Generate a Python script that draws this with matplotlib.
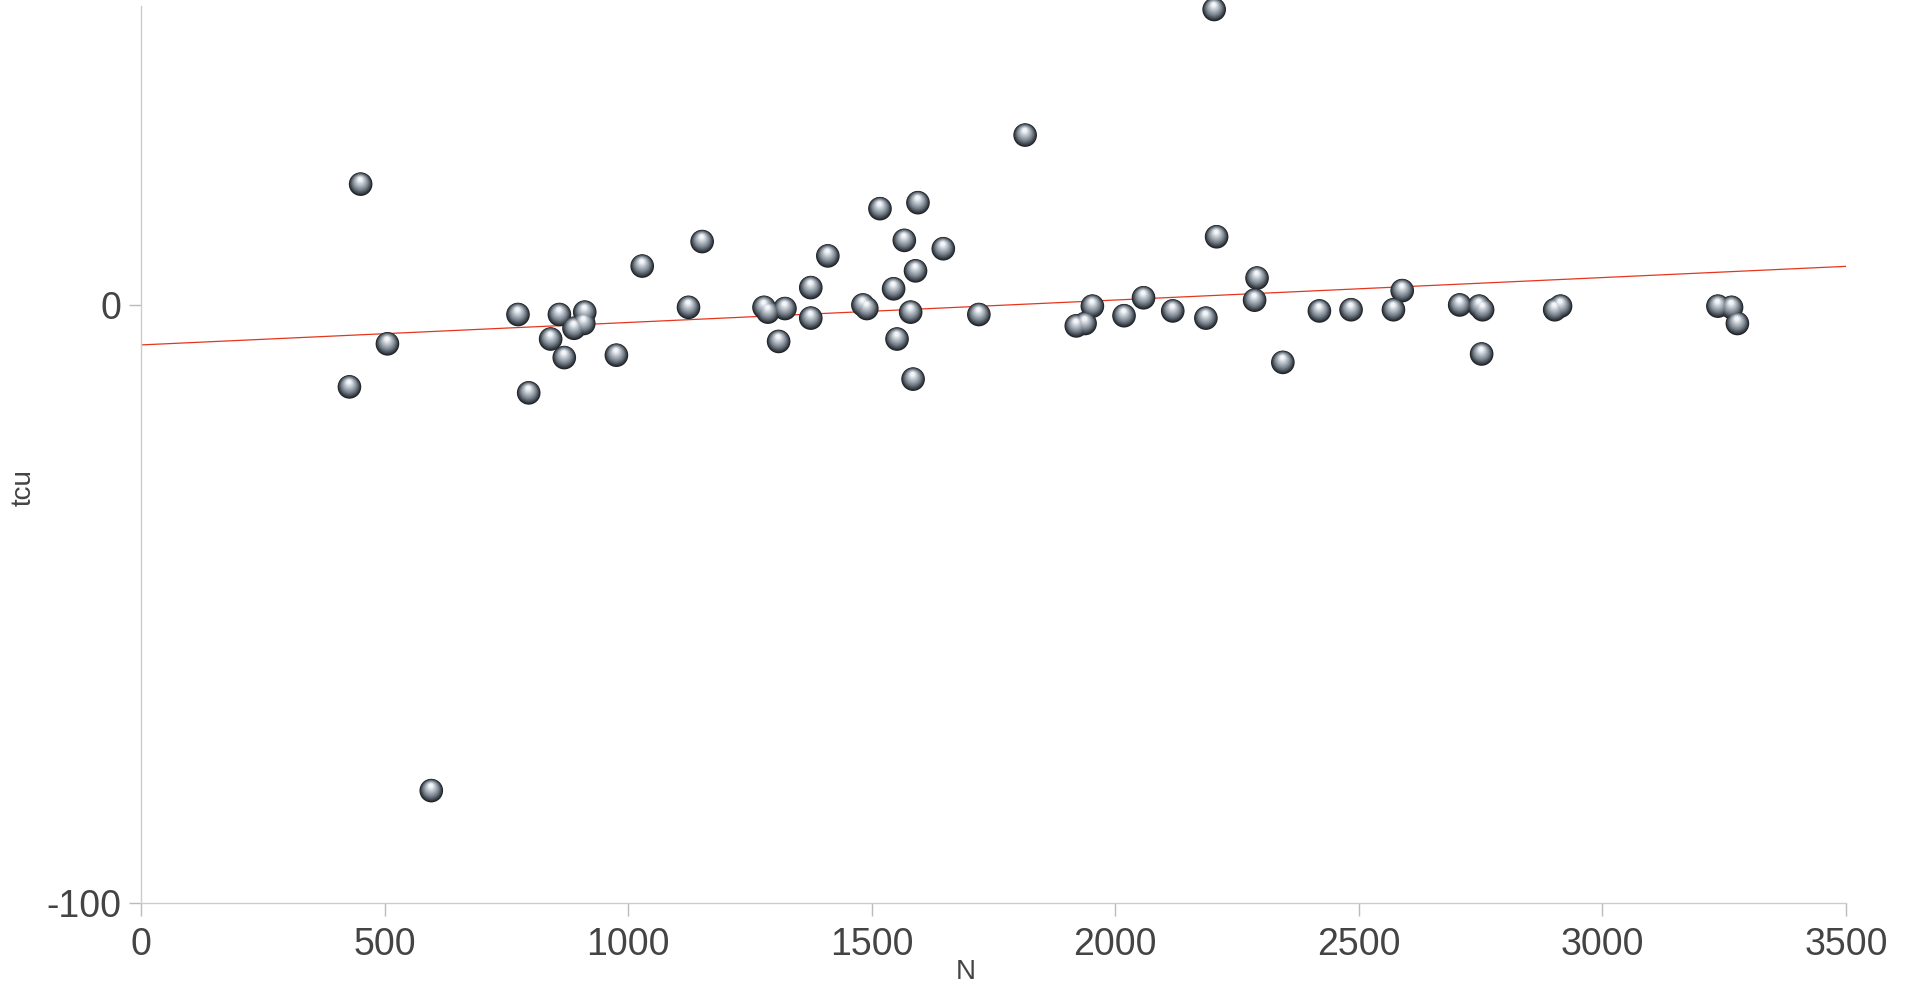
import numpy as np
import matplotlib
matplotlib.use("Agg")
import matplotlib.pyplot as plt
from matplotlib import transforms
from matplotlib.colors import to_rgb

plt.rcParams["axes.unicode_minus"] = False

# data
n_vals = [451, 428, 506, 596, 774, 796, 841, 859, 869, 889, 911, 909, 976, 1029,
          1124, 1152, 1279, 1287, 1309, 1322, 1375, 1375, 1410, 1482, 1490, 1517,
          1545, 1552, 1567, 1580, 1585, 1590, 1595, 1647, 1720, 1815, 1920, 1938,
          1953, 2018, 2058, 2118, 2186, 2203, 2208, 2286, 2291, 2344, 2419, 2484,
          2571, 2589, 2707, 2747, 2752, 2754, 2902, 2914, 3237, 3265, 3277]
tcu_vals = [20.2, -13.7, -6.5, -81.2, -1.6, -14.7, -5.7, -1.6, -8.8, -3.9, -1.2, -3.1,
            -8.4, 6.5, -0.4, 10.6, -0.4, -1.2, -6.1, -0.6, 2.9, -2.2, 8.2, 0.0, -0.6,
            16.1, 2.7, -5.7, 10.8, -1.2, -12.4, 5.7, 17.1, 9.4, -1.6, 28.4, -3.5, -3.1,
            -0.2, -1.8, 1.2, -1.0, -2.2, 49.4, 11.4, 0.8, 4.5, -9.6, -1.0, -0.8, -0.8,
            2.4, 0.0, -0.2, -8.2, -0.8, -0.8, -0.2, -0.2, -0.4, -3.1]
x_ticks = [0, 500, 1000, 1500, 2000, 2500, 3000, 3500]
y_ticks = [-100, 0]

fig = plt.figure(figsize=(19.12, 9.85), dpi=100)
ax = fig.add_axes([0.0737, 0.0832, 0.8918, 0.9108])

x = np.array(n_vals, dtype=float)
y = np.array(tcu_vals, dtype=float)

# linear trend
slope, intercept = np.polyfit(x, y, 1)
xs = np.array([0, 3500])
ax.plot(xs, intercept + slope * xs, color="#e5361c", lw=0.9, zorder=2)

# fake 3d spheres: stacked circles, lighter and smaller towards the highlight
D = 17.0
dark = np.array(to_rgb("#1e2227"))
mid = np.array(to_rgb("#7a848f"))
light = np.array(to_rgb("#f2f6fa"))
n_layers = 16
for i in range(n_layers):
    t = i / (n_layers - 1)
    d = D * (1 - 0.82 * t)
    if t < 0.4:
        c = dark + (mid - dark) * (t / 0.4)
    else:
        c = mid + (light - mid) * ((t - 0.4) / 0.6)
    shift = (D - d) / 2 * 0.5
    tr = transforms.offset_copy(ax.transData, fig=fig, x=-shift * 0.1, y=shift, units="points")
    ax.scatter(x, y, s=d ** 2, color=c, edgecolors="none", transform=tr,
               zorder=3 + i * 0.01, clip_on=False)

ax.set_xlim(0, 3500)
ax.set_ylim(-100, 50)
ax.set_xticks(x_ticks)
ax.set_yticks(y_ticks)

for side in ["top", "right"]:
    ax.spines[side].set_visible(False)
for side in ["left", "bottom"]:
    ax.spines[side].set_color("#cccccc")
    ax.spines[side].set_linewidth(1.0)

ax.tick_params(axis="both", colors="#bbbbbb", length=9, width=1.0,
               labelcolor="#444444", labelsize=27)
ax.tick_params(axis="x", pad=8)
ax.tick_params(axis="y", pad=5)
for lbl in ax.get_xticklabels() + ax.get_yticklabels():
    lbl.set_fontfamily("Liberation Sans")

ax.set_xlabel("N", fontsize=20, color="#444444", fontfamily="Liberation Sans")
ax.set_ylabel("tcu", fontsize=20, color="#444444", fontfamily="Liberation Sans")
ax.xaxis.set_label_coords(0.484, -0.062)
ax.yaxis.set_label_coords(-0.061, 0.463)

fig.savefig("out.png", dpi=100)
